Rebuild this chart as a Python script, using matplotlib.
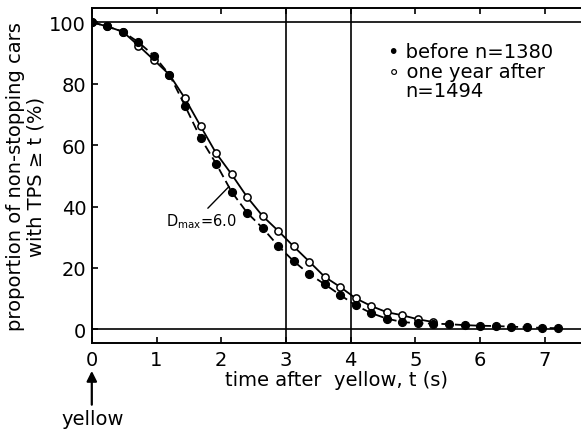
import matplotlib
matplotlib.use("Agg")
import matplotlib.pyplot as plt

plt.rcParams['font.family'] = ['DejaVu Sans']

# time steps (s)
t = [0.00, 0.24, 0.48, 0.72, 0.96, 1.20, 1.44, 1.68, 1.92, 2.16, 2.40, 2.64,
     2.88, 3.12, 3.36, 3.60, 3.84, 4.08, 4.32, 4.56, 4.80, 5.04, 5.28, 5.52,
     5.76, 6.00, 6.24, 6.48, 6.72, 6.96, 7.20]
before = [100.0, 98.6, 96.9, 93.5, 89.1, 82.9, 72.8, 62.3, 54.0, 44.8, 38.0, 33.0,
          27.2, 22.2, 18.0, 14.7, 11.2, 7.8, 5.3, 3.5, 2.4, 2.0, 1.9, 1.7,
          1.4, 1.2, 1.1, 0.9, 0.7, 0.5, 0.4]
t_after = [0.00, 0.24, 0.48, 0.72, 0.96, 1.20, 1.44, 1.68, 1.92, 2.16, 2.40, 2.64,
           2.88, 3.12, 3.36, 3.60, 3.84, 4.08, 4.32, 4.56, 4.80, 5.04, 5.28]
after = [100.0, 98.6, 96.9, 92.4, 87.7, 82.9, 75.2, 66.2, 57.4, 50.5, 43.1, 36.9,
         32.1, 27.0, 22.1, 17.1, 13.8, 10.1, 7.6, 5.6, 4.6, 3.3, 2.4]

xticks = [0, 1, 2, 3, 4, 5, 6, 7]
yticks = [0, 20, 40, 60, 80, 100]

fs = 14

fig = plt.figure(figsize=(5.81, 4.31), dpi=100)
ax = fig.add_axes([0.158, 0.202, 0.842, 0.777])

ax.set_xlim(0, 7.56)
ax.set_ylim(-4.4, 104.6)

lw = 1.2
ax.axhline(0, color='black', lw=lw)
ax.axhline(100, color='black', lw=lw)
ax.axvline(3, color='black', lw=lw)
ax.axvline(4, color='black', lw=lw)

ax.plot(t_after, after, '-', color='black', lw=1.3, marker='o', ms=5.2,
        mfc='white', mec='black', mew=1.1, zorder=3)
ax.plot(t, before, '--', color='black', lw=1.3, dashes=(5, 2.5), marker='o',
        ms=5.6, mfc='black', mec='black', zorder=4)

for s in ['left', 'bottom', 'top']:
    ax.spines[s].set_linewidth(1.4)
ax.spines['right'].set_visible(False)

ax.set_xticks(xticks)
ax.set_yticks(yticks)
ax.tick_params(axis='both', direction='in', length=4, width=1.2,
               labelsize=fs, top=True, right=False, pad=4)
ax.tick_params(axis='x', pad=5)

ax.set_xlabel('time after  yellow, t (s)', fontsize=fs, labelpad=1)
ax.set_ylabel('proportion of non-stopping cars\nwith TPS \u2265 t (%)',
              fontsize=fs, labelpad=3, linespacing=1.1)

# legend text
fig.text(388 / 581, 1 - 53 / 431, '\u2022 before n=1380', fontsize=fs,
         va='center', ha='left')
fig.text(388 / 581, 1 - 72 / 431, '\u2218 one year after', fontsize=fs,
         va='center', ha='left')
fig.text(405 / 581, 1 - 92 / 431, 'n=1494', fontsize=fs,
         va='center', ha='left')

# Dmax annotation
ax.annotate(r'D$_{\mathrm{max}}$=6.0', xy=(2.12, 46.5), xytext=(1.15, 35.5),
            fontsize=10.5, ha='left', va='center',
            arrowprops=dict(arrowstyle='-', color='black', lw=1.0,
                            shrinkA=0, shrinkB=0,
                            relpos=(0.55, 1.0)))

# yellow arrow
ax.annotate('', xy=(0, -13.5), xytext=(0, -24.5), xycoords='data',
            annotation_clip=False,
            arrowprops=dict(arrowstyle='-|>', color='black', lw=1.6,
                            mutation_scale=15, shrinkA=0, shrinkB=0))
fig.text(92.5 / 581, 1 - 420 / 431, 'yellow', fontsize=fs, ha='center',
         va='center')

fig.savefig('out.png', dpi=100)
